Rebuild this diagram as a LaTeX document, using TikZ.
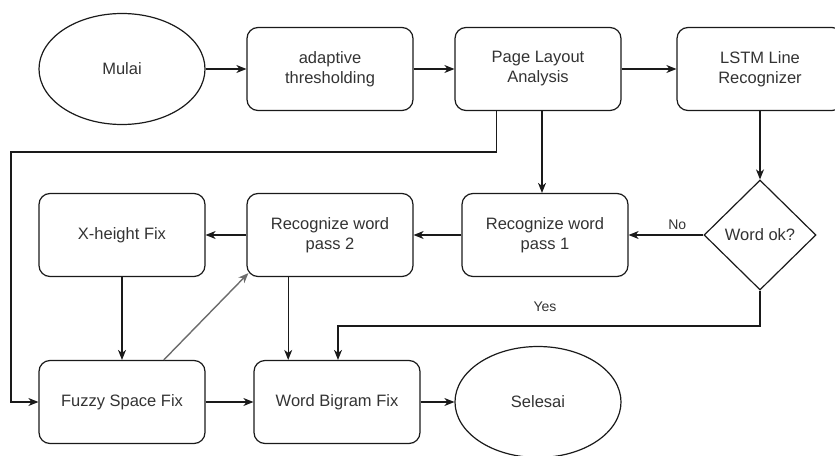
\documentclass[tikz,border=0pt]{standalone}
\usepackage{fontspec}
\setmainfont{Liberation Sans}
\usetikzlibrary{shapes.geometric,arrows.meta,calc}

\definecolor{txt}{HTML}{333333}
\definecolor{edge}{HTML}{1A1A1A}

\tikzset{
  base/.style={draw=edge, line width=1.2pt, text=txt, align=center,
    font=\fontsize{16.5}{20}\selectfont},
  procbox/.style={base, rectangle, rounded corners=11pt,
    minimum width=166pt, minimum height=83pt},
  terminal/.style={base, ellipse, minimum width=166pt, minimum height=111pt},
  decision/.style={base, diamond, inner sep=0pt,
    minimum width=112pt, minimum height=110pt},
  flow/.style={draw=edge, line width=1.2pt,
    -{Stealth[length=10pt,width=8pt,inset=3pt]}},
  lbl/.style={text=txt, font=\fontsize{14}{16}\selectfont, inner sep=1pt}
}

\begin{document}
\begin{tikzpicture}[x=1pt,y=1pt]
	\useasboundingbox (0,0) rectangle (835,-455);
	
	% top row
	\node[terminal] (mulai) at (122,-69) {Mulai};
	\node[procbox] (adapt) at (330,-69) {adaptive\\thresholding};
	\node[procbox] (layout) at (538,-69) {Page Layout\\Analysis};
	\node[procbox] (lstm) at (760,-69) {LSTM Line\\Recognizer};
	
	% middle row
	\node[procbox] (xheight) at (122,-235) {X-height Fix};
	\node[procbox] (passtwo) at (330,-235) {Recognize word\\pass 2};
	\node[procbox] (passone) at (545,-235) {Recognize word\\pass 1};
	\node[decision] (wordok) at (760,-235) {Word ok?};
	
	% bottom row
	\node[procbox] (fuzzy) at (122,-402) {Fuzzy Space Fix};
	\node[procbox] (bigram) at (337,-402) {Word Bigram Fix};
	\node[terminal] (selesai) at (538,-402) {Selesai};
	
	\coordinate (loopleft) at (11,-152);
	\coordinate (yesturn) at (338,-326);
	\coordinate (twodown) at ($(passtwo.south west)!0.25!(passtwo.south east)$);
	
	\draw[flow] (mulai) -- (adapt);
	\draw[flow] (adapt) -- (layout);
	\draw[flow] (layout) -- (lstm);
	\draw[flow] ([xshift=4pt]layout.south) -- ([xshift=4pt]layout.south |- passone.north);
	\draw[flow] ($(layout.south west)!0.25!(layout.south east)$) |- (loopleft) |- (fuzzy.west);
	\draw[flow] (lstm) -- (wordok);
	\draw[flow] (wordok.west) -- node[lbl, pos=0.35, above=4pt] (no) {No} (passone.east);
	\draw[flow] (wordok.south) |- (yesturn) -- (yesturn |- bigram.north);
	\node[lbl] (yes) at (545,-307) {Yes};
	\draw[flow] (passone) -- (passtwo);
	\draw[flow] (passtwo) -- (xheight);
	\draw[flow] (xheight) -- (fuzzy);
	\draw[flow, draw=gray!85!black, line width=1.4pt] ($(fuzzy.north)!0.5!(fuzzy.north east)$) -- ([shift={(2pt,4pt)}]passtwo.south west);
	\draw[flow] (twodown) -- (twodown |- bigram.north);
	\draw[flow] (fuzzy) -- (bigram);
	\draw[flow] (bigram) -- (selesai);
\end{tikzpicture}
\end{document}
